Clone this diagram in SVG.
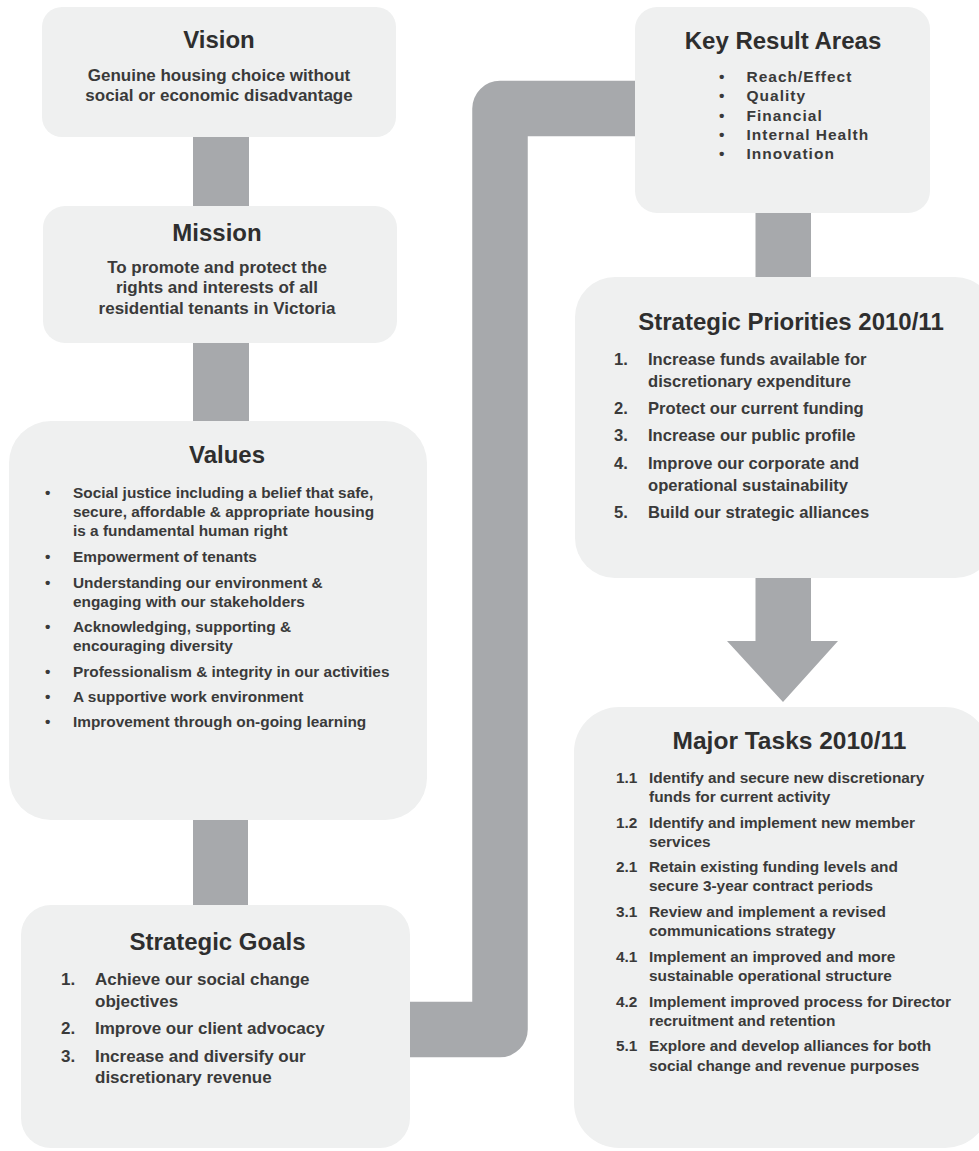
<svg xmlns="http://www.w3.org/2000/svg" width="979" height="1151" viewBox="0 0 979 1151">
<style>
  .box { fill: #eff0f0; }
  .conn { fill: #a7a9ac; }
  .title { font-family: "Liberation Sans", Arial, sans-serif; font-weight: bold; font-size: 24px; fill: #2e2e2e; text-anchor: middle; }
  .body { font-family: "Liberation Sans", Arial, sans-serif; font-weight: bold; fill: #3a3a3a; }
  .c { text-anchor: middle; }
  .f17 { font-size: 17px; }
  .f165 { font-size: 16.6px; }
  .f154 { font-size: 15.4px; }
  .kra { font-size: 15.5px; letter-spacing: 1px; }
</style>
<rect width="979" height="1151" fill="#ffffff"/>
<g id="connectors">
  <rect class="conn" x="193" y="130" width="56" height="82"/>
  <rect class="conn" x="193" y="336" width="56" height="92"/>
  <rect class="conn" x="193" y="812" width="55" height="100"/>
  <path d="M 400 1029.5 H 500 V 108.5 H 645" fill="none" stroke="#a7a9ac" stroke-width="55.5" stroke-linejoin="round"/>
  <rect class="conn" x="755.5" y="205" width="55.5" height="80"/>
  <polygon class="conn" points="755.5,570 811,570 811,641 838,641 783,702 727,641 755.5,641"/>
</g>
<g id="vision">
  <rect class="box" x="42" y="7" width="354" height="130" rx="20"/>
  <text class="title" x="219" y="48">Vision</text>
  <text class="body c f17" x="219" y="80.5">Genuine housing choice without</text>
  <text class="body c f17" x="219" y="101">social or economic disadvantage</text>
</g>
<g id="mission">
  <rect class="box" x="43" y="206" width="354" height="137" rx="22"/>
  <text class="title" x="217" y="240.5">Mission</text>
  <text class="body c f17" x="217" y="272.5">To promote and protect the</text>
  <text class="body c f17" x="217" y="293.3">rights and interests of all</text>
  <text class="body c f17" x="217" y="314">residential tenants in Victoria</text>
</g>
<g id="values">
  <rect class="box" x="9" y="421" width="418" height="399" rx="42"/>
  <text class="title" x="227" y="463">Values</text>
  <g class="body f154">
    <text x="45" y="497.5">•</text><text x="73" y="497.5">Social justice including a belief that safe,</text>
    <text x="73" y="517">secure, affordable &amp; appropriate housing</text>
    <text x="73" y="536">is a fundamental human right</text>
    <text x="45" y="562">•</text><text x="73" y="562">Empowerment of tenants</text>
    <text x="45" y="587.5">•</text><text x="73" y="587.5">Understanding our environment &amp;</text>
    <text x="73" y="607">engaging with our stakeholders</text>
    <text x="45" y="632">•</text><text x="73" y="632">Acknowledging, supporting &amp;</text>
    <text x="73" y="651">encouraging diversity</text>
    <text x="45" y="677">•</text><text x="73" y="677">Professionalism &amp; integrity in our activities</text>
    <text x="45" y="702">•</text><text x="73" y="702">A supportive work environment</text>
    <text x="45" y="727">•</text><text x="73" y="727">Improvement through on-going learning</text>
  </g>
</g>
<g id="strategic-goals">
  <rect class="box" x="21" y="905" width="389" height="243" rx="30"/>
  <text class="title" x="217.5" y="949.5">Strategic Goals</text>
  <g class="body f17">
    <text x="61" y="985">1.</text><text x="95" y="985">Achieve our social change</text>
    <text x="95" y="1006.7">objectives</text>
    <text x="61" y="1034.3">2.</text><text x="95" y="1034.3">Improve our client advocacy</text>
    <text x="61" y="1061.7">3.</text><text x="95" y="1061.7">Increase and diversify our</text>
    <text x="95" y="1083">discretionary revenue</text>
  </g>
</g>
<g id="key-result-areas">
  <rect class="box" x="635" y="7" width="295" height="206" rx="22"/>
  <text class="title" x="783" y="48.5">Key Result Areas</text>
  <g class="body kra">
    <text x="719" y="81.7">•</text><text x="746.5" y="81.7">Reach/Effect</text>
    <text x="719" y="101.2">•</text><text x="746.5" y="101.2">Quality</text>
    <text x="719" y="120.6">•</text><text x="746.5" y="120.6">Financial</text>
    <text x="719" y="140">•</text><text x="746.5" y="140">Internal Health</text>
    <text x="719" y="159.4">•</text><text x="746.5" y="159.4">Innovation</text>
  </g>
</g>
<g id="strategic-priorities">
  <rect class="box" x="575" y="277" width="420" height="301" rx="40"/>
  <text class="title" x="791" y="330">Strategic Priorities 2010/11</text>
  <g class="body f165">
    <text x="614" y="365">1.</text><text x="648" y="365">Increase funds available for</text>
    <text x="648" y="386.7">discretionary expenditure</text>
    <text x="614" y="414">2.</text><text x="648" y="414">Protect our current funding</text>
    <text x="614" y="441.3">3.</text><text x="648" y="441.3">Increase our public profile</text>
    <text x="614" y="469">4.</text><text x="648" y="469">Improve our corporate and</text>
    <text x="648" y="490.7">operational sustainability</text>
    <text x="614" y="518.3">5.</text><text x="648" y="518.3">Build our strategic alliances</text>
  </g>
</g>
<g id="major-tasks">
  <rect class="box" x="574" y="707" width="416" height="441" rx="45"/>
  <text class="title" x="789.5" y="749" style="font-size:24.5px">Major Tasks 2010/11</text>
  <g class="body f154">
    <text x="616" y="783">1.1</text><text x="649" y="783">Identify and secure new discretionary</text>
    <text x="649" y="802">funds for current activity</text>
    <text x="616" y="827.7">1.2</text><text x="649" y="827.7">Identify and implement new member</text>
    <text x="649" y="847">services</text>
    <text x="616" y="872">2.1</text><text x="649" y="872">Retain existing funding levels and</text>
    <text x="649" y="891.3">secure 3-year contract periods</text>
    <text x="616" y="917">3.1</text><text x="649" y="917">Review and implement a revised</text>
    <text x="649" y="936">communications strategy</text>
    <text x="616" y="962">4.1</text><text x="649" y="962">Implement an improved and more</text>
    <text x="649" y="981">sustainable operational structure</text>
    <text x="616" y="1006.7">4.2</text><text x="649" y="1006.7">Implement improved process for Director</text>
    <text x="649" y="1025.7">recruitment and retention</text>
    <text x="616" y="1051.3">5.1</text><text x="649" y="1051.3">Explore and develop alliances for both</text>
    <text x="649" y="1070.7">social change and revenue purposes</text>
  </g>
</g>
</svg>
